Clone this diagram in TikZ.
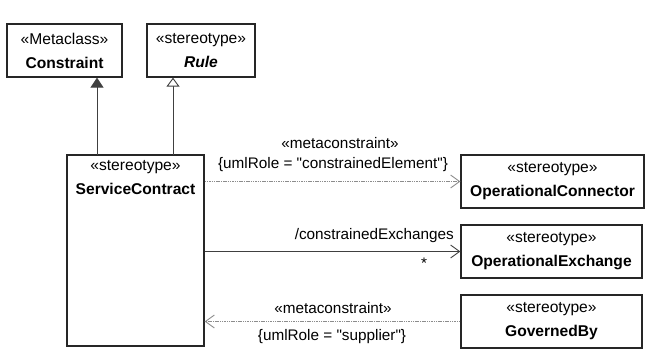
\documentclass[tikz,border=0pt]{standalone}
\usepackage{fontspec}
\setmainfont{Liberation Sans}[Ligatures=TeXOff]
\usetikzlibrary{arrows.meta,calc}

\tikzset{
  cls/.style={draw=black!85, line width=1.3pt, minimum height=53pt, inner sep=0pt,
              align=center, font=\fontsize{15.6}{24}\selectfont},
  lbl/.style={inner sep=0pt, font=\fontsize{15.3}{18}\selectfont},
  assoc/.style={draw=black!75, line width=0.9pt, -{Straight Barb[length=9pt,width=13pt,line width=0.9pt]}},
  depend/.style={draw=black!45, line width=0.9pt, dash pattern=on 1.5pt off 0.8pt,
                 -{Straight Barb[length=9pt,width=13pt,line width=0.9pt,sep=0pt]}},
  extends/.style={draw=black!75, line width=0.9pt, -{Triangle[length=10pt,width=13pt]}},
  generalizes/.style={draw=black!75, line width=0.9pt, -{Triangle[open,length=9pt,width=13pt,fill=white]}}
}

\begin{document}
\begin{tikzpicture}[x=1pt,y=-1pt]
                    \useasboundingbox (0,0) rectangle (661,352);
                    % metaclass and stereotype at the top
                    \node[cls, minimum width=115pt] (C) at (64.5,50.5) {«Metaclass»\\\textbf{Constraint}};
                    \node[cls, minimum width=108pt] (R) at (201,50.5) {«stereotype»\\\textbf{\itshape Rule}};
                    % service contract
                    \node[draw=black!85, line width=1.3pt, minimum width=137pt, minimum height=191pt, inner sep=0pt] (SCbox) at (135.5,250.5) {};
                    \node[anchor=north, align=center, inner sep=0pt, font=\fontsize{15.6}{24}\selectfont] (SC) at ($(SCbox.north)+(0,6)$) {«stereotype»\\\textbf{ServiceContract}};
                    % right column
                    \node[cls, minimum width=183pt] (OC) at (552.5,181.5) {«stereotype»\\\textbf{OperationalConnector}};
                    \node[cls, minimum width=181pt] (OE) at (551.5,251.5) {«stereotype»\\\textbf{OperationalExchange}};
                    \node[cls, minimum width=181pt] (GB) at (551.5,321.5) {«stereotype»\\\textbf{GovernedBy}};
                    \coordinate (E1) at (97,155);
                    \coordinate (E2) at (173,155);
                    \path
                    (E1) edge[extends] (E1 |- C.south)
                    (E2) edge[generalizes] (E2 |- R.south)
                    (SCbox.east |- OC.west) edge[depend] (OC.west)
                    (SCbox.east |- OE.west) edge[assoc] (OE.west)
                    (GB.west) edge[depend] (SCbox.east |- GB.west);
                    % labels
                    \node[lbl] (m1) at (340,143) {«metaconstraint»};
                    \node[lbl] (r1) at (333,165) {\{umlRole = "constrainedElement"\}};
                    \node[lbl, anchor=east] (ce) at (454,236) {/constrainedExchanges};
                    \node[lbl] (mult) at (424,263) {*};
                    \node[lbl] (m2) at (333,308) {«metaconstraint»};
                    \node[lbl] (r2) at (332,337) {\{umlRole = "supplier"\}};
                    \end{tikzpicture}
\end{document}
